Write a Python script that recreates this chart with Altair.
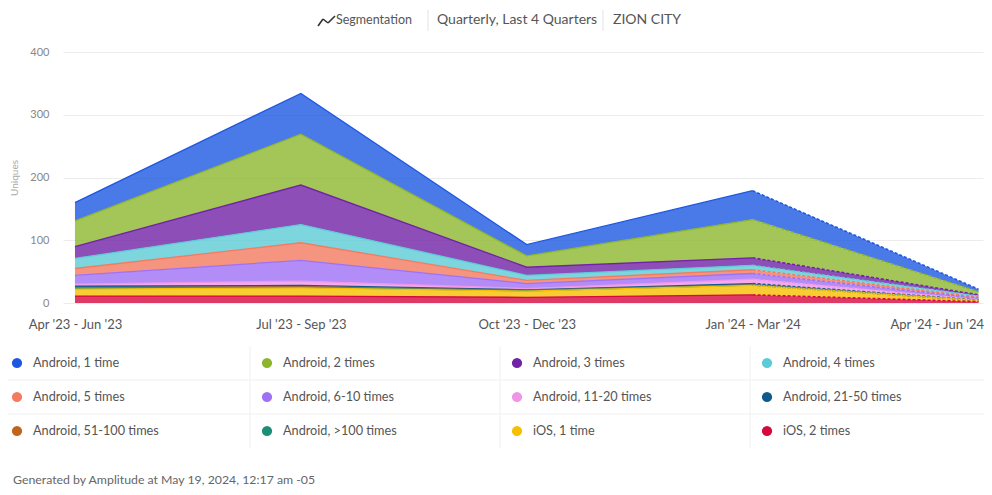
import json
import altair as alt
import pandas as pd

# ---------------- data ----------------
quarters = ["Apr '23 - Jun '23", "Jul '23 - Sep '23", "Oct '23 - Dec '23",
            "Jan '24 - Mar '24", "Apr '24 - Jun '24"]

series = ["Android, 1 time", "Android, 2 times", "Android, 3 times", "Android, 4 times",
          "Android, 5 times", "Android, 6-10 times", "Android, 11-20 times", "Android, 21-50 times",
          "Android, 51-100 times", "Android, >100 times", "iOS, 1 time", "iOS, 2 times"]

colors = ["#1D57E2", "#8DB62E", "#7023A5", "#5CCBD6",
          "#F27B60", "#A070F5", "#F094E8", "#0E5A8C",
          "#C2651C", "#1A8F74", "#F6C000", "#D6093F"]

android_1 = [29, 65, 18, 46, 4]
android_2 = [41, 81, 18, 61, 5]
android_3 = [19, 63, 13, 12, 2]
android_4 = [16, 29, 8, 7, 2]
android_5 = [11, 28, 5, 6, 1.5]
android_6_10 = [14, 33, 8, 9, 2]
android_11_20 = [3, 7, 2, 7, 1]
android_21_50 = [3, 2, 1, 2, 0.5]
android_51_100 = [1, 1, 0.5, 0.5, 0]
android_100p = [1, 1, 0.5, 0.5, 0]
ios_1 = [11, 13, 10, 15, 2]
ios_2 = [11, 11, 9, 13, 2]

series_values = [android_1, android_2, android_3, android_4, android_5, android_6_10,
                 android_11_20, android_21_50, android_51_100, android_100p, ios_1, ios_2]

header_parts = ["Segmentation", "Quarterly, Last 4 Quarters", "ZION CITY"]
footer_text = "Generated by Amplitude at May 19, 2024, 12:17 am -05"
y_ticks = [0, 100, 200, 300, 400]

rows = []
for i, (name, vals) in enumerate(zip(series, series_values)):
    for q, v in enumerate(vals):
        rows.append({"idx": q, "series": name, "ord": len(series) - 1 - i, "value": v})
df = pd.DataFrame(rows)

# ---------------- encodings ----------------
color = alt.Color("series:N", scale=alt.Scale(domain=series, range=colors), legend=None)

x_enc = alt.X(
    "idx:Q",
    scale=alt.Scale(domain=[-0.053, 4.02], nice=False, zero=False),
    axis=alt.Axis(values=[0, 1, 2, 3, 4], labelExpr=json.dumps(quarters) + "[datum.value]",
                  title=None, grid=False, domain=False, ticks=False, labelPadding=15,
                  labelFontSize=13, labelColor="#555555", labelFont="Lato",
                  labelFlush=8, labelFlushOffset=5),
)
y_enc = alt.Y(
    "y1:Q",
    scale=alt.Scale(domain=[0, 400], nice=False),
    axis=alt.Axis(values=y_ticks, title="Uniques", grid=True, gridColor="#ececec",
                  domain=False, ticks=False, labelPadding=14, labelFontSize=11,
                  labelColor="#888888", labelFont="Lato", titleFont="Lato",
                  titleFontSize=10, titleColor="#aaaaaa", titleFontWeight="normal",
                  titlePadding=10),
)

base = alt.Chart(df).transform_stack(
    stack="value", groupby=["idx"], as_=["y0", "y1"],
    sort=[alt.SortField("ord", order="ascending")],
)

area = base.mark_area(opacity=0.8).encode(x=x_enc, y=y_enc, y2="y0:Q", color=color)
line_solid = base.transform_filter("datum.idx <= 3").mark_line(strokeWidth=1.3).encode(
    x="idx:Q", y="y1:Q", color=color)
line_dash = base.transform_filter("datum.idx >= 3").mark_line(strokeWidth=1.6, strokeDash=[3, 2]).encode(
    x="idx:Q", y="y1:Q", color=color)

# ---------------- header / decorations ----------------
OX, OY = 63, 52  # page position of plot origin
one = pd.DataFrame({"a": [0]})


def txt(text, px, py, size, col="#555555", font="Lato", align="left"):
    return alt.Chart(pd.DataFrame({"t": [text]})).mark_text(
        align=align, baseline="middle", font=font, fontSize=size, color=col
    ).encode(x=alt.value(px - OX), y=alt.value(py - OY), text="t:N")


def seg(x1, y1, x2, y2, col, w):
    return alt.Chart(one).mark_rule(color=col, strokeWidth=w).encode(
        x=alt.value(x1 - OX), y=alt.value(y1 - OY), x2=alt.value(x2 - OX), y2=alt.value(y2 - OY))


header = [
    txt(header_parts[0], 336, 20, 12.5, "#555555"),
    txt(header_parts[1], 437, 20, 14, "#555555"),
    txt(header_parts[2], 613, 20, 14, "#555555"),
    seg(428, 10, 428, 31, "#e3e3e3", 1),
    seg(603, 10, 603, 31, "#e3e3e3", 1),
    seg(318, 26, 323, 19, "#333333", 1.6),
    seg(323, 19, 328, 23, "#333333", 1.6),
    seg(328, 23, 335, 16, "#333333", 1.6),
]

legend_grid = [
    seg(250, 346, 250, 448, "#f0f0f0", 1),
    seg(500, 346, 500, 448, "#f0f0f0", 1),
    seg(750, 346, 750, 448, "#f0f0f0", 1),
    seg(8, 380, 984, 380, "#f0f0f0", 1),
    seg(8, 414, 984, 414, "#f0f0f0", 1),
]

# ---------------- legend ----------------
leg_df = pd.DataFrame({"series": series, "i": list(range(len(series)))})
leg = alt.Chart(leg_df).transform_calculate(
    px=f"{17 - OX} + (datum.i % 4) * 250",
    py=f"{363 - OY} + floor(datum.i / 4) * 34",
)
leg_x = alt.X("px:Q", scale=None, axis=None)
leg_y = alt.Y("py:Q", scale=None, axis=None)
dots = leg.mark_circle(size=105, opacity=1).encode(x=leg_x, y=leg_y, color=color)
leg_txt = leg.mark_text(align="left", baseline="middle", font="Lato", fontSize=12.7,
                        color="#555555", dx=16).encode(x=leg_x, y=leg_y, text="series:N")

footer = txt(footer_text, 13, 480, 12.3, "#666666")

chart = alt.layer(*legend_grid, area, line_solid, line_dash, dots, leg_txt, footer, *header).properties(
    width=920, height=251,
    autosize=alt.AutoSizeParams(type="none"),
    padding={"left": 55, "top": 44, "right": 1, "bottom": 184},
    background="white",
).configure_view(stroke=None)

chart.save("out.html", embed_options={"renderer": "svg", "actions": False})
